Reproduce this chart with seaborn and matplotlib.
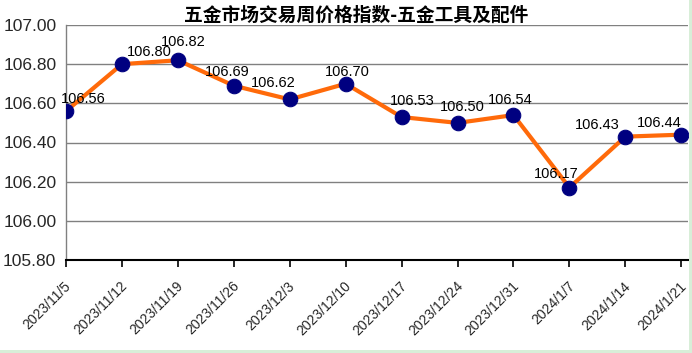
import matplotlib
matplotlib.use("Agg")
import matplotlib.pyplot as plt
import matplotlib.transforms as mtransforms
from matplotlib.patches import Rectangle
import seaborn as sns
import pandas as pd

dates = ["2023/11/5", "2023/11/12", "2023/11/19", "2023/11/26", "2023/12/3", "2023/12/10",
         "2023/12/17", "2023/12/24", "2023/12/31", "2024/1/7", "2024/1/14", "2024/1/21"]
values = [106.56, 106.80, 106.82, 106.69, 106.62, 106.70, 106.53, 106.50, 106.54, 106.17, 106.43, 106.44]
yticks = [105.80, 106.00, 106.20, 106.40, 106.60, 106.80, 107.00]
title = "五金市场交易周价格指数-五金工具及配件"

# label offsets (style, in pixels)
label_dx = [17, 27, 5, -7, -16, 2, 11, 5, -3, -13, -28, -22]
label_dy = [12, 12, 18, 14, 16, 12, 16, 16, 15, 14, 12, 12]

sns.set_style("white")
plt.rcParams['font.family'] = ['Liberation Sans', 'DejaVu Sans']

df = pd.DataFrame({"x": range(len(dates)), "v": values})

fig = plt.figure(figsize=(6.92, 3.53), dpi=100)
# spreadsheet-like green strip at right and bottom edges
fig.patches.append(Rectangle((689/692, 0), 3/692, 1, transform=fig.transFigure,
                             facecolor="#D8EED8", edgecolor="none", zorder=0))
fig.patches.append(Rectangle((0, 0), 1, 3/353, transform=fig.transFigure,
                             facecolor="#D8EED8", edgecolor="none", zorder=0))

ax = fig.add_axes([66/692, 1-260/353, (688-66)/692, (260-25)/353])
sns.lineplot(data=df, x="x", y="v", ax=ax, color="#FF6A0A", linewidth=3,
             marker="o", markersize=10.5, markerfacecolor="#000080",
             markeredgecolor="#000080", zorder=3)

ax.set_ylim(105.80, 107.00)
ax.set_xlim(0, 11.12)
ax.set_yticks(yticks)
ax.set_yticklabels([f"{t:.2f}" for t in yticks], fontsize=12.5)
ax.set_xticks(range(len(dates)))
ax.set_xticklabels(dates, rotation=45, ha="right", va="center", rotation_mode="anchor", fontsize=10)
ax.tick_params(axis="x", length=5, width=1.2, color="black", direction="out", bottom=True, pad=0)
ax.tick_params(axis="y", length=0, pad=7)
shift = mtransforms.ScaledTranslation(3/100, -17/100, fig.dpi_scale_trans)
for lab in ax.get_xticklabels():
    lab.set_transform(lab.get_transform() + shift)
ax.set_xlabel("")
ax.set_ylabel("")
ax.grid(axis="y", color="#808080", linewidth=1)
for s in ["top", "right"]:
    ax.spines[s].set_visible(False)
ax.spines["left"].set_color("#808080")
ax.spines["left"].set_linewidth(1)
ax.spines["bottom"].set_color("black")
ax.spines["bottom"].set_linewidth(1.5)
ax.set_axisbelow(True)

for i, v in enumerate(values):
    ax.annotate(f"{v:.2f}", (i, v), xytext=(label_dx[i] * 0.72, label_dy[i] * 0.72),
                textcoords="offset points", ha="center", va="center", fontsize=10.5,
                color="black", zorder=4)

fig.text(356/692, 1-15/353, title, ha="center", va="center", fontsize=13.5, fontweight="bold",
         family=['Noto Sans CJK SC', 'DejaVu Sans'], color="black")

fig.savefig("out.png", dpi=100)
